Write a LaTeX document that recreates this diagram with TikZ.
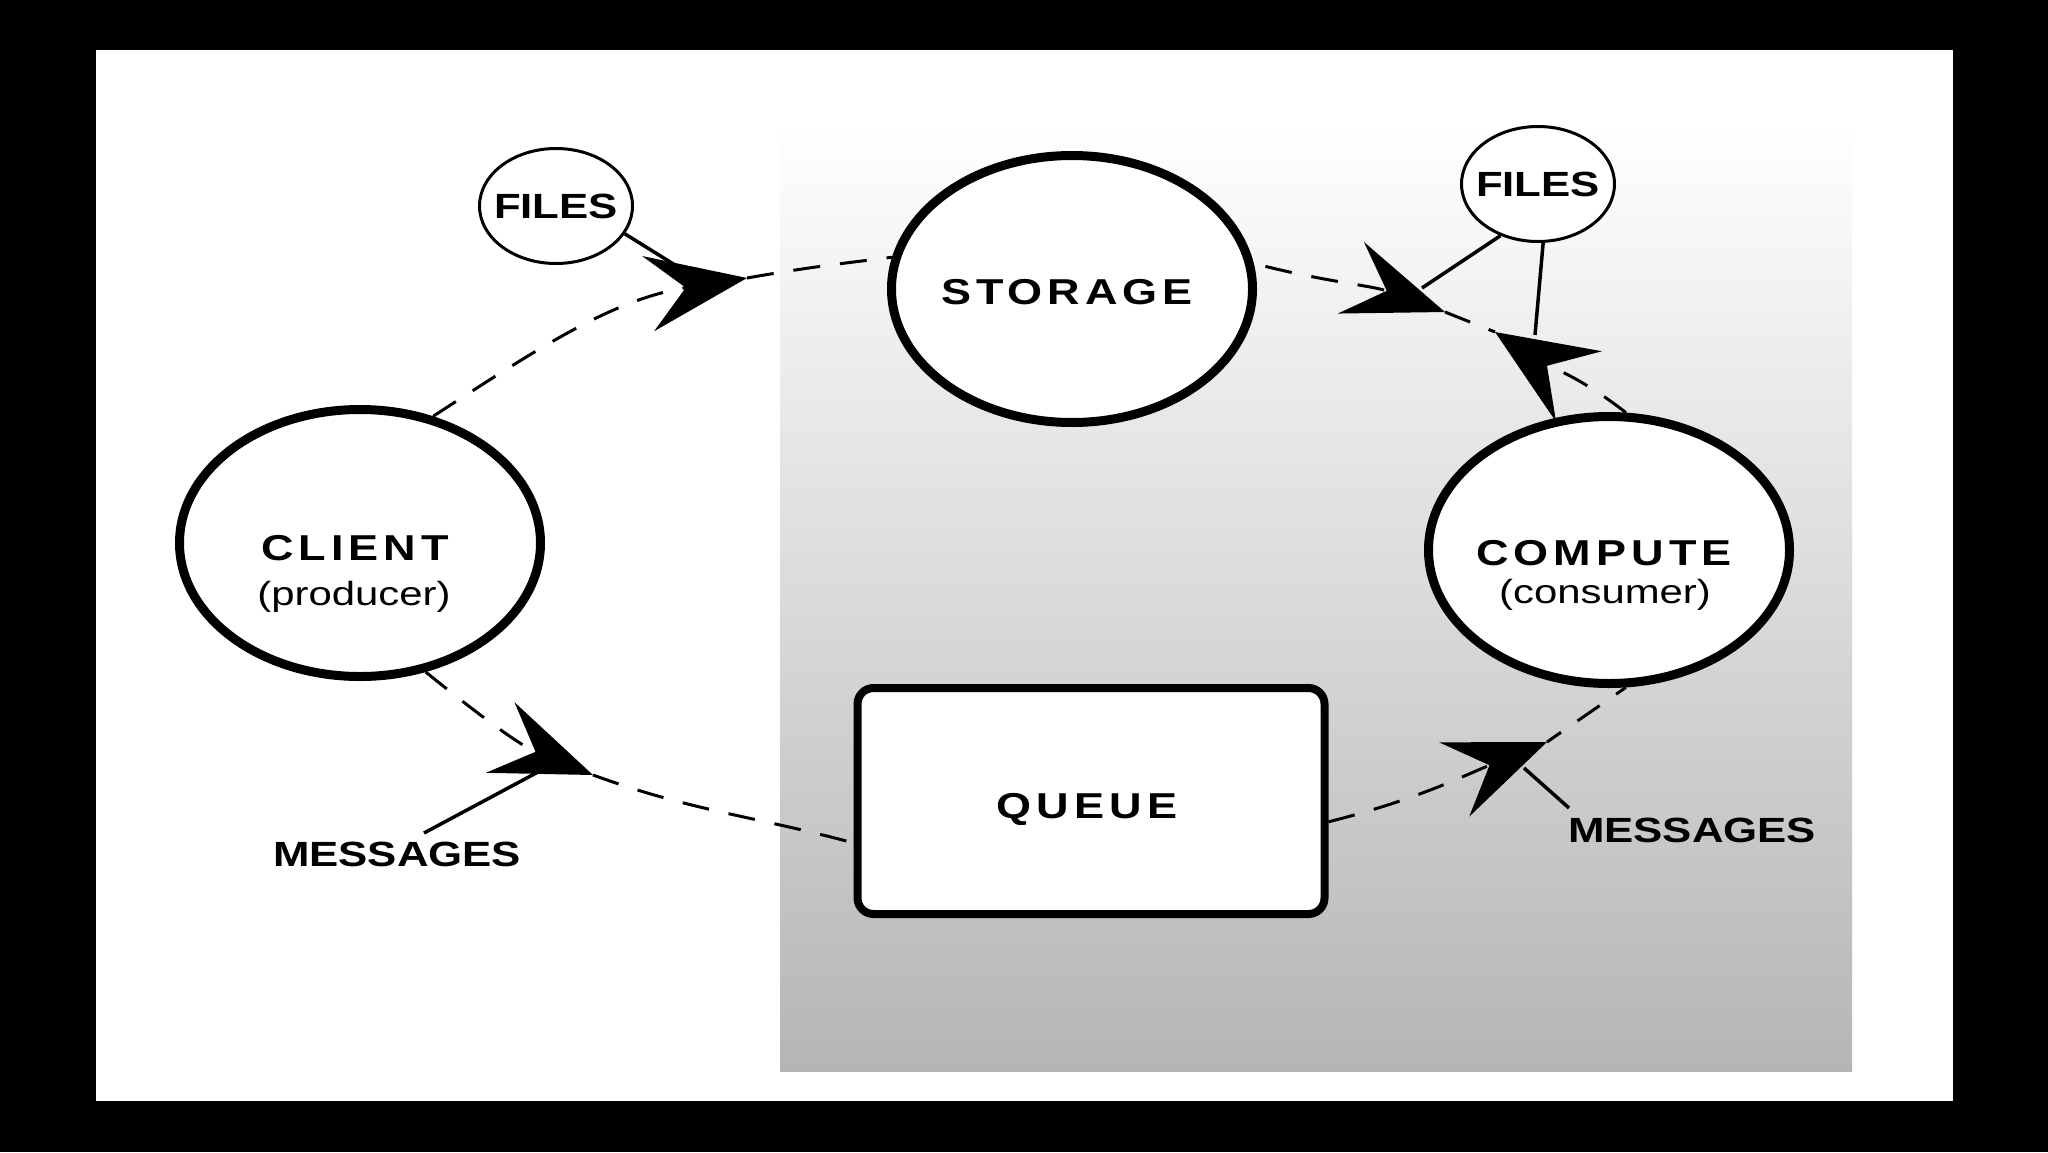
\documentclass[tikz,border=0pt]{standalone}
\usepackage{fontspec}
\setmainfont{Liberation Sans}[FakeStretch=1.25]
\newfontfamily\widefont{Liberation Sans}[FakeStretch=1.25,LetterSpace=14]
\usetikzlibrary{arrows.meta,shapes.geometric}

\tikzset{
  bigring/.style={draw,ellipse,fill=white,line width=9pt,minimum width=361pt,minimum height=267pt,inner sep=0pt},
  smallring/.style={draw,ellipse,fill=white,line width=3pt,minimum width=153pt,minimum height=115pt,inner ysep=0pt,inner xsep=-10pt,font=\fontsize{35}{40}\selectfont\bfseries},
  queuebox/.style={draw,fill=white,line width=8pt,rounded corners=16pt,minimum width=467pt,minimum height=226pt,inner sep=0pt},
  bigtext/.style={font=\fontsize{36}{40}\selectfont\widefont\bfseries,inner sep=0pt},
  subtext/.style={font=\fontsize{33.5}{38}\selectfont,inner sep=0pt},
  msgtext/.style={font=\fontsize{35}{40}\selectfont\bfseries,inner sep=0pt},
  flow/.style={line width=3pt,dash pattern=on 27pt off 20pt},
  flowhead/.style={flow,-{Stealth[length=100pt,width=#1,inset=38pt]}},
  flowhead/.default=76pt,
  feed/.style={line width=3.5pt}
}

\begin{document}
\begin{tikzpicture}[x=1pt,y=1pt]
\useasboundingbox (0,0) rectangle (2048,-1152);
\fill[black] (0,0) rectangle (2048,-1152);
\fill[white] (96,-50) rectangle (1953,-1101);
\shade[top color=white,bottom color=black!29] (780,-124) rectangle (1852,-1071);

\node [bigring] (client) at (360,-543) {};
\node [bigring] (storage) at (1072,-289) {};
\node [bigring] (compute) at (1609,-550) {};
\node [queuebox] (queue) at (1091,-801) {};

\node [bigtext] (clientname) at (355,-548) {CLIENT};
\node [subtext] (clientrole) at (354,-597) {(producer)};
\node [bigtext] (storagename) at (1067,-292) {STORAGE};
\node [bigtext] (computename) at (1604,-553) {COMPUTE};
\node [subtext] (computerole) at (1605,-595) {(consumer)};
\node [bigtext] (queuename) at (1087,-809) {QUEUE};

\node [smallring] (filesleft) at (556,-206) {FILES};
\node [smallring] (filesright) at (1538,-184) {FILES};
\node [msgtext] (msgleft) at (397,-854) {MESSAGES};
\node [msgtext] (msgright) at (1692,-830) {MESSAGES};

\coordinate (tipa) at (747,-278);
\coordinate (tipb) at (1445,-312);
\coordinate (tipc) at (1495,-332);
\coordinate (tipd) at (593,-775);
\coordinate (tipe) at (1547,-742);
\coordinate (feeda) at (675,-265);
\coordinate (feedb) at (1422,-288);
\coordinate (feedc) at (1535,-335);
\coordinate (feedd) at (538,-772);
\coordinate (feede) at (1524,-768);
\coordinate (msglefttop) at (424,-833);
\coordinate (msgrighttop) at (1569,-808);

\draw [feed] (filesleft.-22) -- (feeda);
\draw [feed] (filesright.234) -- (feedb);
\draw [feed] (filesright.-85) -- (feedc);
\draw [feed] (msglefttop) -- (feedd);
\draw [feed] (msgrighttop) -- (feede);

\draw [flowhead] (client.60) to [out=33,in=189] (tipa);
\draw [flow] (tipa) to [out=10,in=187] (storage.170);
\draw [flowhead,shorten <=12pt] (storage.8) to [out=-14,in=160] (tipb);
\draw [flow] (tipb) -- (tipc);
\draw [flowhead=84pt] (compute.83) to [out=142,in=-33] (tipc);
\draw [flowhead] (client.-63) to [out=-39,in=158] (tipd);
\draw [flow] (tipd) to [out=-20,in=165] (queue.190);
\draw [flowhead=80pt] (queue.-5) to [out=14,in=202] (tipe);
\draw [flow,dash phase=10pt] (tipe) to [out=35,in=215] (compute.-83);
\end{tikzpicture}
\end{document}
